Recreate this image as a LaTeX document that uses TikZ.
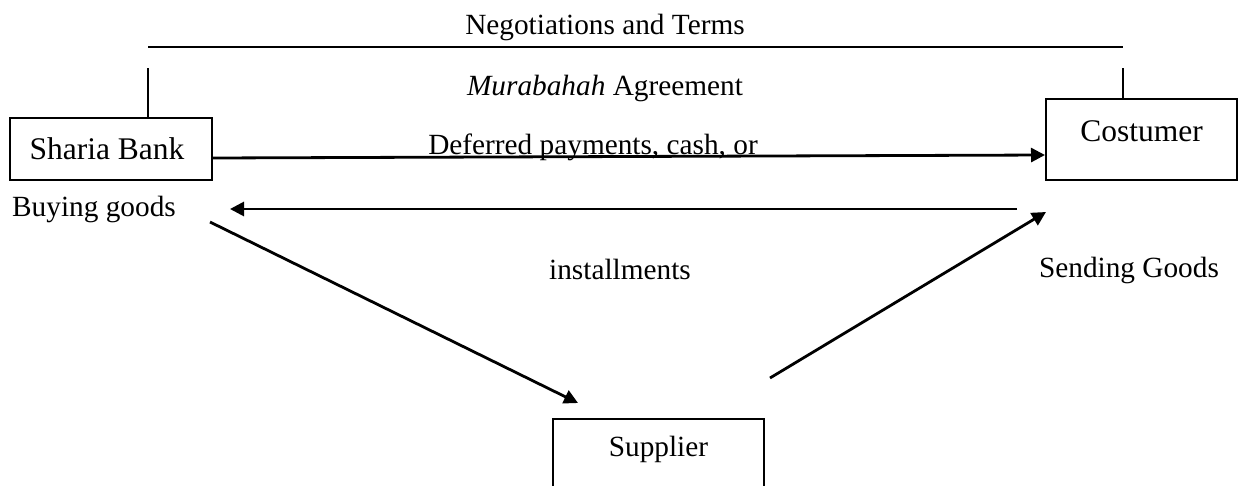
\documentclass[tikz,border=0pt]{standalone}
\usepackage{fontspec}
\setmainfont{Liberation Serif}
\usetikzlibrary{arrows.meta}
\begin{document}
\begin{tikzpicture}[x=1pt,y=-1pt,
  box/.style={draw,line width=2pt,inner sep=0pt,minimum width=#1},
  lbl/.style={font=\fontsize{29.3}{35}\selectfont,inner sep=0pt},
  blbl/.style={font=\fontsize{31.5}{38}\selectfont,inner sep=0pt},
  ln/.style={line width=2pt},
  arr/.style={line width=2.8pt,-{Triangle[length=14pt,width=14pt]}}]
\clip (0,0) rectangle (1240,485);
\useasboundingbox (0,0) rectangle (1240,485);
% boxes
\node[box=202pt,minimum height=62pt] (bank) at (111,149) {};
\node[blbl] at (107,149) {Sharia Bank};
\node[box=191pt,minimum height=81pt] (cust) at (1141.5,139.5) {};
\node[blbl] at (1141.5,131) {Costumer};
\node[box=211pt,minimum height=102pt] (supp) at (658.5,470) {};
\node[lbl] at (658.5,449) {Supplier};
% top bracket
\coordinate (tl) at (148,47);
\coordinate (tr) at (1123,47);
\coordinate (sl) at (148,68);
\coordinate (sr) at (1123,68);
\draw[ln] (tl) -- (tr);
\draw[ln] (sl) -- (sl |- bank.north);
\draw[ln] (sr) -- (sr |- cust.north);
% labels
\node[lbl] (neg) at (605,27) {Negotiations and Terms};
\node[lbl] (mur) at (605,88) {\textit{Murabahah} Agreement};
\node[lbl] (def) at (593,147) {Deferred payments, cash, or};
\node[lbl] (buy) at (94,209) {Buying goods};
\node[lbl] (inst) at (620,269) {installments};
\node[lbl] (send) at (1129,270) {Sending Goods};
% arrows
\draw[arr] ([yshift=-9pt]bank.east) -- ([yshift=-15.5pt]cust.west);
\coordinate (a2s) at (1017,209);
\coordinate (a2e) at (230,209);
\draw[arr] (a2s) -- (a2e);
\coordinate (a3s) at (210,222);
\coordinate (a3e) at (578,403);
\draw[arr] (a3s) -- (a3e);
\coordinate (a4s) at (770,378);
\coordinate (a4e) at (1046,212);
\draw[arr] (a4s) -- (a4e);
\end{tikzpicture}
\end{document}
